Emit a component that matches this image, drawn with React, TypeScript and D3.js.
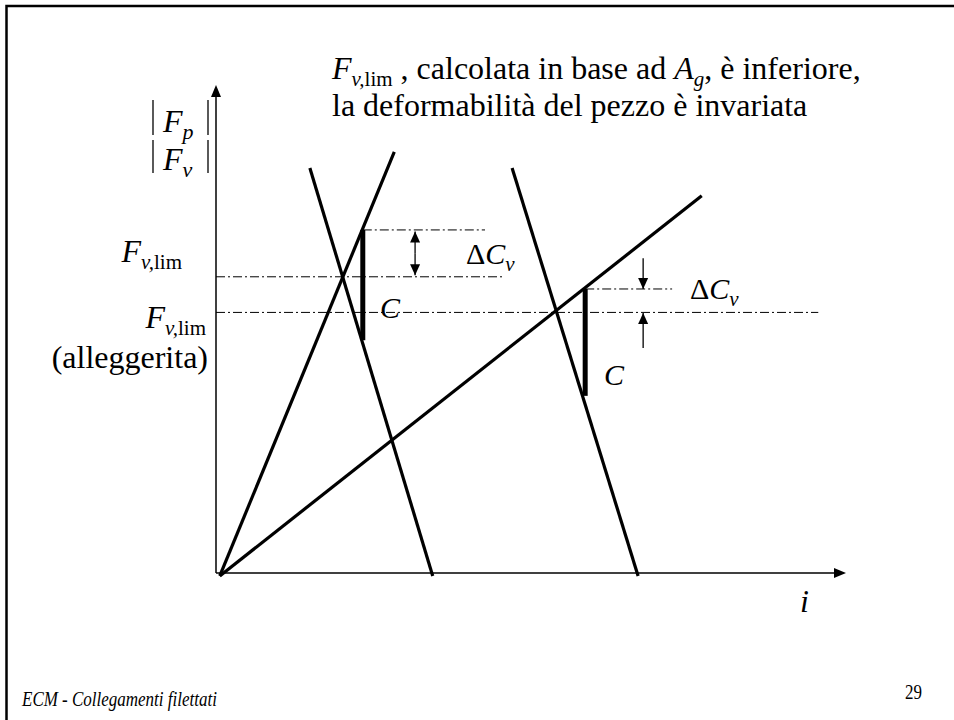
import React from 'react';
import * as d3 from 'd3';

const W = 954;
const H = 720;

// Force lines (abstract diagram units: i on x, |F| on y)
const lineNames = ['Fv', 'Fv alleggerita', 'Fp', 'Fp shifted'];
const lineStartX = [0.6, 0.6, 14.9, 47.0];
const lineStartY = [-0.6, -0.6, 83.0, 83.0];
const lineEndX = [28.3, 77.1, 34.4, 67.0];
const lineEndY = [86.3, 77.3, -0.6, -0.6];

// Thick "C" segments
const barX = [23.3, 58.6];
const barTop = [70.3, 58.2];
const barBottom = [47.7, 36.3];

// Dash-dot reference levels
const refY = [70.3, 60.7, 53.4, 58.2];
const refX0 = [23.3, 0, 0, 58.6];
const refX1 = [42.7, 45.4, 95.6, 72.4];

// Delta C_v arrows: x, start level, tip level
const arrowX = [31.6, 31.6, 67.8, 67.8];
const arrowFrom = [65.5, 65.5, 64.5, 46.1];
const arrowTo = [70.0, 61.0, 58.2, 53.3];

const x = d3.scaleLinear().domain([0, 100]).range([216, 846]);
const y = d3.scaleLinear().domain([0, 100]).range([573, 85]);

const SERIF = "'Liberation Serif', 'DejaVu Serif', serif";

function Head({ x0, y0, x1, y1, len = 11, half = 4.5 }: any) {
  const a = Math.atan2(y1 - y0, x1 - x0);
  const bx = x1 - len * Math.cos(a);
  const by = y1 - len * Math.sin(a);
  const px = -Math.sin(a) * half;
  const py = Math.cos(a) * half;
  return <polygon points={`${x1},${y1} ${bx + px},${by + py} ${bx - px},${by - py}`} fill="#000" />;
}

export default function App() {
  const line = d3.line<[number, number]>().x(d => x(d[0])).y(d => y(d[1]));
  const sub = { fontSize: 21 };
  return (
    <svg width={W} height={H} style={{ position: 'absolute', left: 0, top: 0, background: '#fff', fontFamily: SERIF }}>
      <rect x={0} y={0} width={W} height={H} fill="#fff" />
      {/* slide frame */}
      <path d={`M6.5,${H + 5} L6.5,6 L${W + 5},6`} fill="none" stroke="#000" strokeWidth={2.5} />

      {/* axes */}
      <line x1={x(0)} y1={y(0)} x2={x(100) - 8} y2={y(0)} stroke="#000" strokeWidth={1.5} />
      <Head x0={x(0)} y0={y(0)} x1={x(100)} y1={y(0)} len={12} half={5} />
      <line x1={x(0)} y1={y(0)} x2={x(0)} y2={y(100) + 8} stroke="#000" strokeWidth={1.5} />
      <Head x0={x(0)} y0={y(0)} x1={x(0)} y1={y(100)} len={12} half={5} />

      {/* dash-dot reference lines */}
      {refY.map((v, i) => (
        <line key={'r' + i} x1={x(refX0[i])} x2={x(refX1[i])} y1={y(v)} y2={y(v)}
          stroke="#000" strokeWidth={1} strokeDasharray="9 3 2 3" />
      ))}

      {/* force lines */}
      {lineNames.map((n, i) => (
        <path key={n} d={line([[lineStartX[i], lineStartY[i]], [lineEndX[i], lineEndY[i]]]) || ''}
          fill="none" stroke="#000" strokeWidth={3.2} />
      ))}

      {/* C segments */}
      {barX.map((v, i) => (
        <line key={'b' + i} x1={x(v)} x2={x(v)} y1={y(barTop[i])} y2={y(barBottom[i])} stroke="#000" strokeWidth={5} />
      ))}

      {/* arrows */}
      {arrowX.map((v, i) => (
        <g key={'a' + i}>
          <line x1={x(v)} x2={x(v)} y1={y(arrowFrom[i])} y2={y(arrowTo[i])} stroke="#000" strokeWidth={1.3} />
          <Head x0={x(v)} y0={y(arrowFrom[i])} x1={x(v)} y1={y(arrowTo[i])} len={11} half={5} />
        </g>
      ))}

      {/* annotations */}
      <text x={466} y={264} fontSize={30} style={{ fontFamily: SERIF }}>Δ<tspan fontStyle="italic">C</tspan><tspan fontStyle="italic" fontSize={21} dy={7}>v</tspan></text>
      <text x={380} y={318} fontSize={30} fontStyle="italic" style={{ fontFamily: SERIF }}>C</text>
      <text x={690} y={299} fontSize={30} style={{ fontFamily: SERIF }}>Δ<tspan fontStyle="italic">C</tspan><tspan fontStyle="italic" fontSize={21} dy={7}>v</tspan></text>
      <text x={604} y={385} fontSize={30} fontStyle="italic" style={{ fontFamily: SERIF }}>C</text>
      <text x={800} y={612} fontSize={32} fontStyle="italic" style={{ fontFamily: SERIF }}>i</text>

      {/* title */}
      <text x={332} y={79} fontSize={32} style={{ fontFamily: SERIF }}>
        <tspan fontStyle="italic">F</tspan><tspan {...sub} dy={7} fontStyle="italic">v,</tspan><tspan {...sub}>lim</tspan><tspan dy={-7}> , calcolata in base ad </tspan><tspan fontStyle="italic">A</tspan><tspan {...sub} dy={7} fontStyle="italic">g</tspan><tspan dy={-7}>, è inferiore,</tspan>
      </text>
      <text x={332} y={116} fontSize={32} style={{ fontFamily: SERIF }}>la deformabilità del pezzo è invariata</text>

      {/* y-axis label |Fp| / |Fv| */}
      {[153, 208].map(bx => (
        <g key={'v' + bx}>
          <line x1={bx} x2={bx} y1={100} y2={135} stroke="#000" strokeWidth={1.3} />
          <line x1={bx} x2={bx} y1={140} y2={173} stroke="#000" strokeWidth={1.3} />
        </g>
      ))}
      <text x={163} y={132} fontSize={32} fontStyle="italic" style={{ fontFamily: SERIF }}>F<tspan fontSize={22} dy={7}>p</tspan></text>
      <text x={163} y={170} fontSize={32} fontStyle="italic" style={{ fontFamily: SERIF }}>F<tspan fontSize={22} dy={7}>v</tspan></text>

      <text x={182} y={262} fontSize={32} textAnchor="end" style={{ fontFamily: SERIF }}>
        <tspan fontStyle="italic">F</tspan><tspan {...sub} dy={7} fontStyle="italic">v,</tspan><tspan {...sub}>lim</tspan>
      </text>
      <text x={206} y={328} fontSize={32} textAnchor="end" style={{ fontFamily: SERIF }}>
        <tspan fontStyle="italic">F</tspan><tspan {...sub} dy={7} fontStyle="italic">v,</tspan><tspan {...sub}>lim</tspan>
      </text>
      <text x={208} y={368} fontSize={32} textAnchor="end" style={{ fontFamily: SERIF }}>(alleggerita)</text>

      {/* footer */}
      <text transform="translate(22,706) scale(0.85,1)" fontSize={20} fontStyle="italic" style={{ fontFamily: SERIF }}>ECM - Collegamenti filettati</text>
      <text transform="translate(905,699) scale(0.85,1)" fontSize={20} style={{ fontFamily: SERIF }}>29</text>
    </svg>
  );
}
